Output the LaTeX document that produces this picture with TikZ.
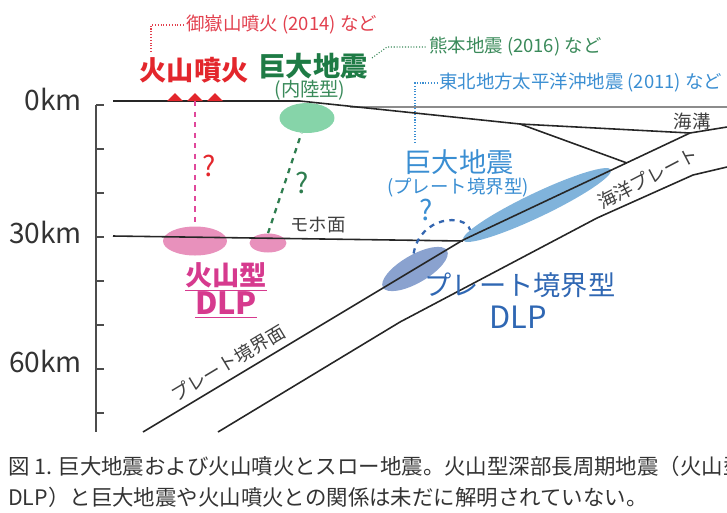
\documentclass[tikz,border=0pt]{standalone}
\usepackage{fontspec}
\setmainfont{Noto Sans CJK JP}
\usetikzlibrary{shapes.geometric}

\definecolor{volcred}{HTML}{E3262C}
\definecolor{notered}{HTML}{E2404E}
\definecolor{quakegreen}{HTML}{1E7B45}
\definecolor{notegreen}{HTML}{3A8A5A}
\definecolor{quakeblue}{HTML}{3A8ED2}
\definecolor{dlpblue}{HTML}{2F67B3}
\definecolor{dlpmagenta}{HTML}{D63A8E}
\definecolor{dlppink}{HTML}{E891BC}
\definecolor{crustgreen}{HTML}{86D4A9}
\definecolor{megablue}{HTML}{80B3DB}
\definecolor{slowblue}{HTML}{8AA2CF}
\definecolor{linkpink}{HTML}{E0489B}
\definecolor{linkgreen}{HTML}{2E7D4F}
\definecolor{linkblue}{HTML}{3466B0}

\begin{document}
\begin{tikzpicture}[x=0.02cm, y=-0.02cm,
    blob/.style={ellipse, inner sep=0pt},
    sizeL/.style={font=\fontsize{15.5}{18}\selectfont},
    sizeM/.style={font=\fontsize{11}{13}\selectfont},
    sizeS/.style={font=\fontsize{10.5}{12}\selectfont},
    leader/.style={densely dotted, line width=0.6pt},
    link/.style={dash pattern=on 3pt off 3pt, line width=1.3pt},
    ground/.style={line width=0.9pt, black!85}]

  \useasboundingbox (0,0) rectangle (727,512);

  % depth axis
  \draw[ground, black!70] (96,105) -- (96,432);
  \foreach \k in {0,...,7}
    \draw[ground, black!70] (96,105+44*\k) -- (104,105+44*\k);

  \begin{scope}[every node/.style={anchor=base east, font=\fontsize{16}{18}\selectfont, text=black!80}]
    \node (d0)  at (88,110) {0km};
    \node (d30) at (88,243) {30km};
    \node (d60) at (88,372) {60km};
  \end{scope}

  % source regions
  \begin{scope}[every node/.style={blob}]
    \node[fill=dlppink, minimum width=1.28cm, minimum height=0.58cm] (vdlp)  at (195,241) {};
    \node[fill=dlppink, minimum width=0.74cm, minimum height=0.38cm] (vdlp2) at (268,243) {};
    \node[fill=crustgreen, minimum width=1.1cm, minimum height=0.6cm] (crust) at (307,118) {};
    \node[fill=megablue, minimum width=3.28cm, minimum height=0.48cm, rotate=25.5] (mega) at (537,205) {};
    \node[fill=slowblue, minimum width=1.48cm, minimum height=0.56cm, rotate=30] (pdlp) at (415,269) {};
  \end{scope}

  % surface, Moho and the slab
  \draw[line width=0.9pt, black!45] (350,107) -- (727,107);
  \draw[ground] (113,101) -- (300,101) -- (520,124) -- (690,133);
  \draw[ground] (520,124) -- (627,163);
  \draw[ground] (113,236) -- (463,241);
  \draw[ground] (143,432) -- (463,240) -- (690,133) -- (727,127);
  \draw[ground] (218,432) -- (400,322) -- (597,218) -- (693,175) -- (727,167);

  \foreach \x in {175,195,215}
    \fill[volcred] (\x-8,101) -- (\x,93) -- (\x+8,101) -- cycle;
  \coordinate (vent) at (195,101);

  \begin{scope}[every node/.style={sizeL}]
    \node[text=volcred, font=\fontsize{15.5}{18}\selectfont\bfseries] (erupt) at (194,70) {火山噴火};
    \node[text=quakegreen, font=\fontsize{15.5}{18}\selectfont\bfseries] (inland) at (313,66) {巨大地震};
    \node[text=quakeblue] (megaq) at (459,162) {巨大地震};
    \node[text=dlpmagenta, font=\fontsize{15.5}{18}\selectfont\bfseries] (vtype) at (226,277) {\underline{火山型}};
    \node[text=dlpmagenta, font=\fontsize{17.5}{20}\selectfont\bfseries] (vtype2) at (226,305) {\underline{DLP}};
    \node[text=dlpblue] (ptype) at (520,285) {プレート境界型};
    \node[text=dlpblue, font=\fontsize{17.5}{20}\selectfont] (ptype2) at (518,317) {DLP};
    \node[text=volcred, font=\fontsize{16}{18}\selectfont] (q1) at (209,166) {?};
    \node[text=linkgreen, font=\fontsize{16}{18}\selectfont] (q2) at (302,183) {?};
    \node[text=quakeblue, font=\fontsize{16}{18}\selectfont] (q3) at (426,210) {?};
  \end{scope}

  \begin{scope}[every node/.style={sizeS, inner sep=1pt}]
    \node[text=notegreen, sizeM] (inland2) at (310,90) {(内陸型)};
    \node[text=quakeblue] (megaq2) at (458,188) {(プレート境界型)};
    \node[anchor=west, text=notered] (ontake) at (184,25) {御嶽山噴火 (2014) など};
    \node[anchor=west, text=notegreen] (kumamoto) at (427,47) {熊本地震 (2016) など};
    \node[anchor=west, text=quakeblue] (tohoku) at (437,83) {東北地方太平洋沖地震 (2011) など};
    \node[text=black!75] (moho) at (318,225) {モホ面};
    \node[text=black!75, rotate=31] (iface) at (228,363) {プレート境界面};
    \node[text=black!75, rotate=27.5] (oplate) at (648,178) {海洋プレート};
    \node[text=black!75] (trench) at (692,121) {海溝};
  \end{scope}

  \coordinate (r0) at (151,52);
  \coordinate (g0) at (372,58);
  \coordinate (b0) at (415,143);
  \draw[leader, notered] (r0) |- (ontake.west);
  \draw[leader, notegreen] (g0) -- ++(15,-11) -- (kumamoto.west);
  \draw[leader, quakeblue] (b0) |- (tohoku.west);

  \draw[link, linkpink] (vent) -- (vdlp.north);
  \draw[link, linkgreen] (vdlp2.north) -- (crust.250);
  \draw[link, linkblue] (pdlp.65) .. controls (420,216) and (465,213) .. (mega.175);

  \begin{scope}[every node/.style={anchor=west, text=black!80, font=\fontsize{12.2}{14}\selectfont}]
    \node (cap1) at (2,466) {図 1. 巨大地震および火山噴火とスロー地震。火山型深部長周期地震（火山型};
    \node (cap2) at (2,497) {DLP）と巨大地震や火山噴火との関係は未だに解明されていない。};
  \end{scope}

\end{tikzpicture}
\end{document}
